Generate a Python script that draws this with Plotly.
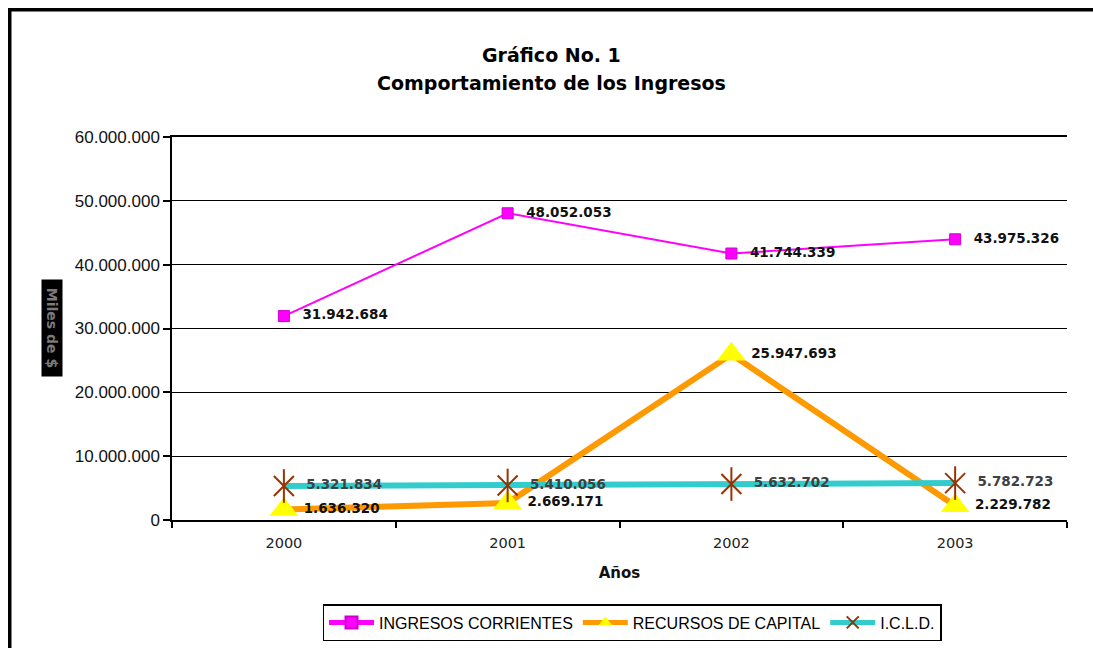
import plotly.graph_objects as go

years = ["2000", "2001", "2002", "2003"]
ingresos_corrientes = [31942684, 48052053, 41744339, 43975326]
recursos_capital = [1636320, 2669171, 25947693, 2229782]
icld = [5321834, 5410056, 5632702, 5782723]
y_ticks = [0, 10000000, 20000000, 30000000, 40000000, 50000000, 60000000]


def fmt(v):
    return f"{v:,}".replace(",", ".")


W, H = 1093, 648
ML, MR, MT, MB = 172, 26, 137, 128
PW, PH = W - ML - MR, H - MT - MB


def px_x(p):
    return (p - ML) / PW


def px_y(p):
    return (H - MB - p) / PH


fig = go.Figure()

fig.add_trace(go.Scatter(
    x=years, y=ingresos_corrientes, name="INGRESOS CORRIENTES",
    mode="lines+markers",
    line=dict(color="#FF00FF", width=2),
    marker=dict(symbol="square", size=11, color="#FF00FF",
                line=dict(color="#CC00CC", width=1)),
))
fig.add_trace(go.Scatter(
    x=years, y=recursos_capital, name="RECURSOS DE CAPITAL",
    mode="lines+markers",
    line=dict(color="#FF9900", width=6),
    marker=dict(symbol="triangle-up", size=25, color="#FFFF00"),
))
fig.add_trace(go.Scatter(
    x=years, y=icld, name="I.C.L.D.",
    mode="lines+markers",
    line=dict(color="#33CCCC", width=6),
    marker=dict(symbol="x-thin-open", size=20, color="#993300",
                line=dict(color="#993300", width=2)),
))
fig.add_trace(go.Scatter(
    x=years, y=icld, mode="markers", showlegend=False, hoverinfo="skip",
    marker=dict(symbol="line-ns-open", size=24, color="#993300",
                line=dict(color="#993300", width=2)),
))

label_specs = [
    (ingresos_corrientes, "#111111", 28),
    (recursos_capital, "#111111", 30),
    (icld, "#404040", 34),
]
for vals, col, msize in label_specs:
    fig.add_trace(go.Scatter(
        x=years, y=vals, mode="markers+text", showlegend=False, hoverinfo="skip",
        marker=dict(size=msize, color="rgba(0,0,0,0)"),
        text=[fmt(v) for v in vals], textposition="middle right",
        textfont=dict(family="DejaVu Sans", size=13.5, color=col, weight="bold"),
    ))

title_font = dict(family="DejaVu Sans", size=19, color="#000000", weight="bold")

fig.update_layout(
    width=W, height=H,
    margin=dict(l=ML, r=MR, t=MT, b=MB, autoexpand=False),
    paper_bgcolor="white", plot_bgcolor="white",
    separators=",.",
    font=dict(family="Liberation Sans, Arial", color="#000000"),
    xaxis=dict(
        type="category", range=[-0.5, 3.5],
        showline=True, linecolor="#000000", linewidth=1.5, mirror=True,
        ticks="outside", tickson="boundaries", ticklen=6, tickcolor="#000000",
        tickwidth=1.5, ticklabelstandoff=9,
        tickfont=dict(family="DejaVu Sans", size=14.5, color="#222222"),
        showgrid=False,
        title=dict(text="Años", standoff=17,
                   font=dict(family="DejaVu Sans", size=15, color="#111111",
                             weight="bold")),
    ),
    yaxis=dict(
        range=[0, 60000000], tickvals=y_ticks, tickformat=",d",
        showline=True, linecolor="#000000", linewidth=1.5,
        ticks="outside", ticklen=7, tickcolor="#000000", tickwidth=1.5,
        showgrid=True, gridcolor="#000000", gridwidth=1,
        zeroline=False,
        tickfont=dict(family="Liberation Sans, Arial", size=17, color="#111111"),
    ),
    legend=dict(
        orientation="h", x=px_x(632), xanchor="center", y=px_y(604), yanchor="top",
        bordercolor="#000000", borderwidth=1.5, bgcolor="white",
        font=dict(family="Liberation Sans, Arial", size=16, color="#000000"),
        itemsizing="constant", tracegroupgap=0, itemwidth=45,
    ),
    annotations=[
        # outer chart frame (only its top and left edges fall inside the page)
        dict(text=" ", xref="paper", yref="paper",
             x=px_x(8), y=px_y(8), xanchor="left", yanchor="top",
             showarrow=False, width=1300, height=900,
             bordercolor="#000000", borderwidth=3.5, borderpad=0,
             bgcolor="rgba(0,0,0,0)"),
        dict(text="Gráfico No. 1", xref="paper", yref="paper",
             x=px_x(551), y=px_y(55), xanchor="center", yanchor="middle",
             showarrow=False, font=title_font),
        dict(text="Comportamiento de los Ingresos", xref="paper", yref="paper",
             x=px_x(551), y=px_y(83), xanchor="center", yanchor="middle",
             showarrow=False, font=title_font),
        dict(text="Miles de $", xref="paper", yref="paper",
             x=px_x(52), y=px_y(328), xanchor="center", yanchor="middle",
             textangle=90, showarrow=False, bgcolor="#000000",
             width=92, height=16, borderpad=2,
             font=dict(family="DejaVu Sans", size=14, color="#7a7a7a",
                       weight="bold")),
    ],
)

fig.write_html("out.html")
